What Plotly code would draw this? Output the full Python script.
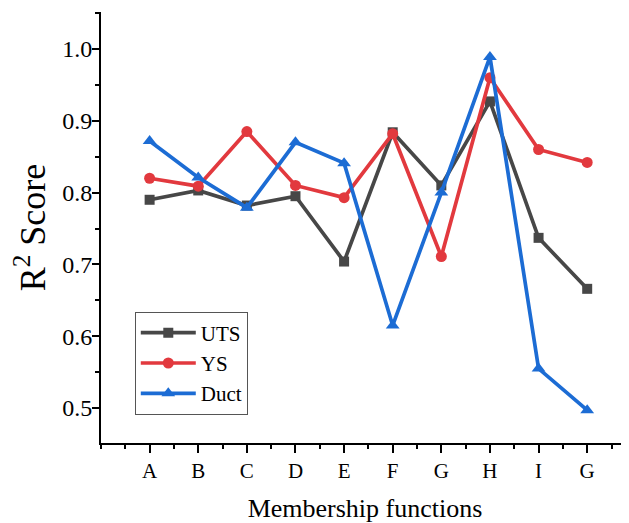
import plotly.graph_objects as go

categories = ["A", "B", "C", "D", "E", "F", "G", "H", "I", "G"]
positions = [1, 2, 3, 4, 5, 6, 7, 8, 9, 10]
uts = [0.790, 0.803, 0.782, 0.795, 0.704, 0.884, 0.810, 0.927, 0.737, 0.666]
ys = [0.820, 0.809, 0.885, 0.810, 0.793, 0.882, 0.711, 0.960, 0.860, 0.842]
duct = [0.872, 0.821, 0.779, 0.870, 0.841, 0.615, 0.800, 0.989, 0.555, 0.497]
y_ticks = [0.5, 0.6, 0.7, 0.8, 0.9, 1.0]

FONT = "Liberation Serif"

fig = go.Figure()
fig.add_trace(go.Scatter(x=positions, y=uts, name="UTS", mode="lines+markers",
                         line=dict(color="#474747", width=3.7),
                         marker=dict(symbol="square", size=10, color="#474747")))
fig.add_trace(go.Scatter(x=positions, y=ys, name="YS", mode="lines+markers",
                         line=dict(color="#e2393e", width=3.7),
                         marker=dict(symbol="circle", size=11, color="#e2393e")))
fig.add_trace(go.Scatter(x=positions, y=duct, name="Duct", mode="lines+markers",
                         line=dict(color="#1c6cd4", width=3.7),
                         marker=dict(symbol="triangle-up", size=12, color="#1c6cd4")))

# page body has an 8px default margin, so the figure is 8px smaller than the window
fig.update_layout(
    width=621, height=515,
    margin=dict(l=93, r=0, t=4, b=80),
    paper_bgcolor="white", plot_bgcolor="white",
    font=dict(family=FONT, color="black"),
    showlegend=True,
    legend=dict(x=0.064, y=0.305, xanchor="left", yanchor="top",
                bgcolor="white", bordercolor="#555555", borderwidth=1,
                font=dict(family=FONT, size=21, color="black"),
                tracegroupgap=0, itemwidth=55),
    xaxis=dict(
        range=[0, 10.86],
        tickmode="array",
        tickvals=positions,
        ticktext=categories,
        ticks="outside", ticklen=8, tickwidth=1.5, tickcolor="black",
        minor=dict(dtick=0.5, tick0=0, ticks="outside", ticklen=4, tickwidth=1.5, tickcolor="black"),
        showline=True, linecolor="black", linewidth=2,
        showgrid=False, zeroline=False,
        tickfont=dict(family=FONT, size=21, color="black"),
        title=dict(text="Membership functions", standoff=19,
                   font=dict(family=FONT, size=26, color="black")),
    ),
    yaxis=dict(
        range=[0.4513, 1.0515],
        tickmode="array",
        tickvals=y_ticks,
        ticktext=[f"{v:.1f}" for v in y_ticks],
        ticks="outside", ticklen=7, tickwidth=1.5, tickcolor="black",
        minor=dict(dtick=0.05, tick0=0.45, ticks="outside", ticklen=4, tickwidth=1.5, tickcolor="black"),
        showline=True, linecolor="black", linewidth=2,
        showgrid=False, zeroline=False,
        ticklabelstandoff=-5,
        tickfont=dict(family=FONT, size=24, color="black"),
        title=dict(text="R<sup>2</sup> Score", standoff=24,
                   font=dict(family=FONT, size=36, color="black")),
    ),
)

fig.write_html("out.html")
